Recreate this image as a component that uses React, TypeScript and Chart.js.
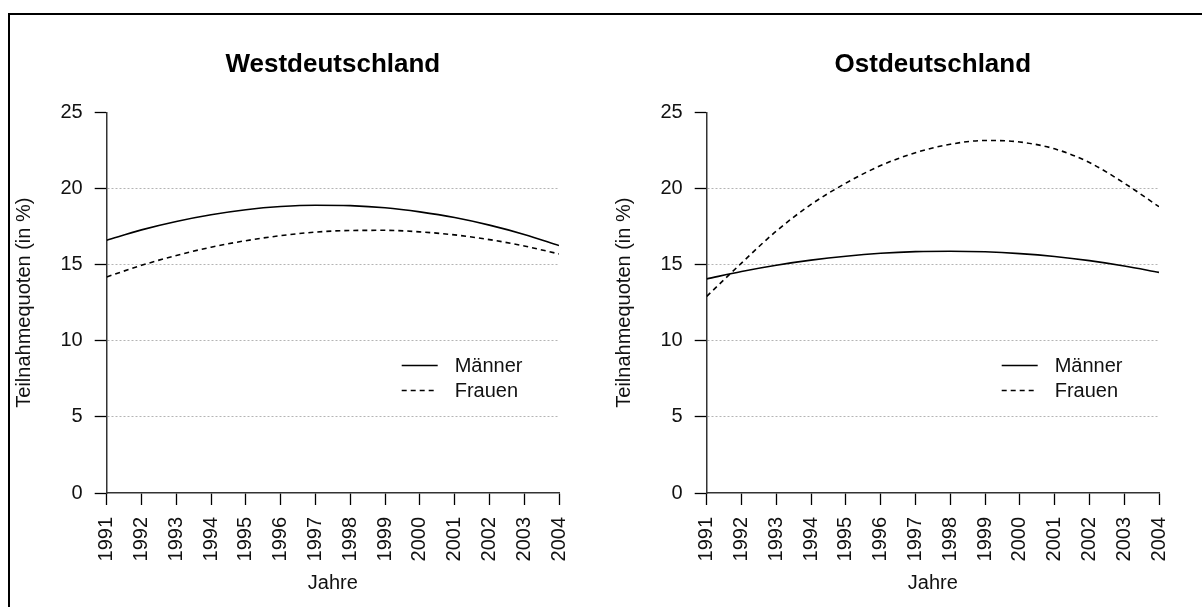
import React, { useEffect, useRef } from "react";
import { Chart, registerables } from "chart.js";

Chart.register(...registerables);

// ---- data ----
const years = [1991, 1992, 1993, 1994, 1995, 1996, 1997, 1998, 1999, 2000, 2001, 2002, 2003, 2004];
const yTickValues = [0, 5, 10, 15, 20, 25];

const westMaenner = [16.6, 17.28, 17.83, 18.27, 18.6, 18.81, 18.9, 18.87, 18.73, 18.46, 18.09, 17.59, 16.98, 16.25];
const westFrauen = [14.19, 14.95, 15.6, 16.14, 16.57, 16.9, 17.13, 17.24, 17.25, 17.15, 16.95, 16.64, 16.22, 15.7];
const ostMaenner = [14.06, 14.55, 14.96, 15.29, 15.55, 15.74, 15.85, 15.88, 15.84, 15.72, 15.53, 15.26, 14.91, 14.49];
const ostFrauen = [12.91, 15.1, 17.2, 18.95, 20.35, 21.5, 22.35, 22.9, 23.15, 23.05, 22.6, 21.7, 20.35, 18.8];

const seriesLabels = ["Männer", "Frauen"];
const panelTitles = ["Westdeutschland", "Ostdeutschland"];
const xAxisTitle = "Jahre";
const yAxisTitle = "Teilnahmequoten (in %)";

// ---- styles ----
const FONT = '"Liberation Sans", Arial, Helvetica, sans-serif';
const TEXT = "#111";
const LINE_W = 1.6;
const DASH = [5, 4];

const legendPlugin = {
  id: "rLegend",
  afterDraw(chart: any) {
    const { ctx, chartArea } = chart;
    const x0 = chartArea.left + 295;
    const rows = [
      { label: seriesLabels[0], dash: [] as number[], y: chartArea.top + 253 },
      { label: seriesLabels[1], dash: DASH, y: chartArea.top + 278 },
    ];
    ctx.save();
    ctx.font = `20px ${FONT}`;
    ctx.fillStyle = TEXT;
    ctx.textAlign = "left";
    ctx.textBaseline = "middle";
    rows.forEach((r) => {
      ctx.beginPath();
      ctx.setLineDash(r.dash);
      ctx.lineWidth = LINE_W;
      ctx.strokeStyle = "#000";
      ctx.moveTo(x0, Math.round(r.y) + 0.5);
      ctx.lineTo(x0 + 36, Math.round(r.y) + 0.5);
      ctx.stroke();
      ctx.setLineDash([]);
      ctx.fillText(r.label, x0 + 53, r.y + 1);
    });
    ctx.restore();
  },
};

function makeConfig(title: string, men: number[], women: number[]): any {
  return {
    type: "line",
    data: {
      datasets: [
        {
          label: seriesLabels[0],
          data: years.map((y, i) => ({ x: y, y: men[i] })),
          borderColor: "#000",
          borderWidth: LINE_W,
          pointRadius: 0,
          cubicInterpolationMode: "monotone",
          fill: false,
        },
        {
          label: seriesLabels[1],
          data: years.map((y, i) => ({ x: y, y: women[i] })),
          borderColor: "#000",
          borderWidth: LINE_W,
          borderDash: DASH,
          pointRadius: 0,
          cubicInterpolationMode: "monotone",
          fill: false,
        },
      ],
    },
    options: {
      responsive: false,
      animation: false,
      events: [],
      layout: { padding: { top: 0, left: 0, right: 41, bottom: 0 } },
      plugins: {
        legend: { display: false },
        tooltip: { enabled: false },
        title: {
          display: true,
          text: title,
          fullSize: false,
          color: "#000",
          font: { family: FONT, size: 26, weight: "bold", lineHeight: 1.2 },
          padding: { top: 49.4, bottom: 31.7 },
        },
      },
      scales: {
        x: {
          type: "linear",
          min: years[0],
          max: years[years.length - 1],
          afterBuildTicks: (s: any) => {
            s.ticks = years.map((v) => ({ value: v }));
          },
          afterFit: (s: any) => {
            s.height = 114;
          },
          ticks: {
            autoSkip: false,
            minRotation: 90,
            maxRotation: 90,
            padding: 12,
            color: TEXT,
            font: { family: FONT, size: 20 },
            callback: (v: any) => String(v),
          },
          grid: {
            drawOnChartArea: false,
            drawTicks: true,
            tickLength: 12,
            tickColor: "#000",
            tickWidth: 1.3,
          },
          border: { display: true, color: "#333", width: 1.5 },
          title: {
            display: true,
            text: xAxisTitle,
            color: TEXT,
            font: { family: FONT, size: 20, lineHeight: 1.2 },
            padding: { top: 0, bottom: 11.6 },
          },
        },
        y: {
          type: "linear",
          min: yTickValues[0],
          max: yTickValues[yTickValues.length - 1],
          afterBuildTicks: (s: any) => {
            s.ticks = yTickValues.map((v) => ({ value: v }));
          },
          afterFit: (s: any) => {
            s.width = 106.7;
          },
          ticks: {
            padding: 12,
            color: TEXT,
            font: { family: FONT, size: 20 },
            callback: (v: any) => String(v),
          },
          grid: {
            color: (c: any) =>
              c.tick && (c.tick.value === yTickValues[0] || c.tick.value === yTickValues[yTickValues.length - 1])
                ? "rgba(0,0,0,0)"
                : "#b4b4b4",
            lineWidth: 1,
            drawTicks: true,
            tickLength: 12,
            tickColor: "#000",
            tickWidth: 1.3,
          },
          border: { display: true, color: "#333", width: 1.5, dash: [2, 2] },
          title: {
            display: true,
            text: yAxisTitle,
            color: TEXT,
            font: { family: FONT, size: 20, lineHeight: 1.2 },
            padding: { top: 12, bottom: 0 },
          },
        },
      },
    },
    plugins: [legendPlugin],
  };
}

function Panel({ left, title, men, women }: { left: number; title: string; men: number[]; women: number[] }) {
  const ref = useRef<HTMLCanvasElement | null>(null);
  useEffect(() => {
    if (!ref.current) return;
    const chart = new Chart(ref.current, makeConfig(title, men, women));
    return () => chart.destroy();
  }, [title, men, women]);
  return (
    <canvas
      ref={ref}
      width={600}
      height={607}
      style={{ position: "absolute", left, top: 0, width: 600, height: 607, display: "block" }}
    />
  );
}

export default function App() {
  return (
    <div
      style={{
        position: "absolute",
        left: 0,
        top: 0,
        width: 1202,
        height: 607,
        overflow: "hidden",
        background: "#fff",
      }}
    >
      <div style={{ position: "absolute", left: 8, top: 13, width: 1194, height: 2, background: "#000" }} />
      <div style={{ position: "absolute", left: 8, top: 13, width: 2, height: 594, background: "#000" }} />
      <Panel left={0} title={panelTitles[0]} men={westMaenner} women={westFrauen} />
      <Panel left={600} title={panelTitles[1]} men={ostMaenner} women={ostFrauen} />
    </div>
  );
}
